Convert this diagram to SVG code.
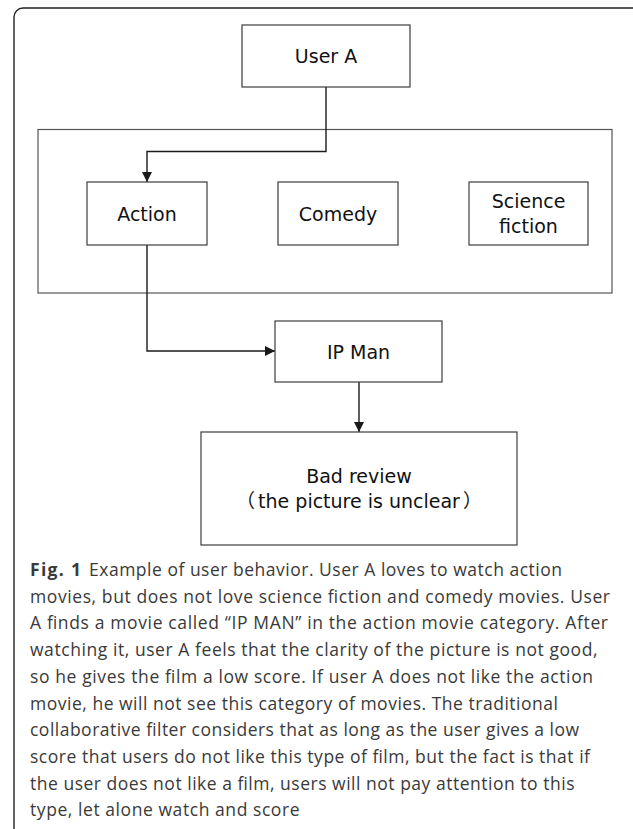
<svg xmlns="http://www.w3.org/2000/svg" width="633" height="829" viewBox="0 0 633 829">
<style>
.box{fill:#fff;stroke:#3c3c3c;stroke-width:1.2}
.grp{fill:none;stroke:#555;stroke-width:1.2}
.lbl{font-family:"DejaVu Sans","Noto Sans CJK SC",sans-serif;font-size:19px;fill:#111;text-anchor:middle}
.cjk{font-family:"Noto Sans CJK SC",sans-serif}
.con{fill:none;stroke:#1a1a1a;stroke-width:1.4}
.cap{font-family:"Open Sans","Liberation Sans",sans-serif;font-size:17.5px;fill:#3a3a3a}
</style>
<defs>
<marker id="ah" viewBox="0 0 10 10" refX="10" refY="5" markerWidth="10" markerHeight="10" markerUnits="userSpaceOnUse" orient="auto">
<path d="M0,0 L10,5 L0,10 Z" fill="#1a1a1a"/>
</marker>
</defs>
<rect x="14" y="8" width="628" height="830" rx="9" ry="9" fill="none" stroke="#222" stroke-width="1.4"/>
<rect class="grp" x="38" y="129.5" width="574" height="163.5"/>
<g id="connectors">
<path class="con" d="M326,87 V151.5 H147 V182" marker-end="url(#ah)"/>
<path class="con" d="M147,245 V351 H275" marker-end="url(#ah)"/>
<path class="con" d="M359,382 V432" marker-end="url(#ah)"/>
</g>
<g id="userA">
<rect class="box" x="242" y="25" width="168" height="62"/>
<text class="lbl" x="326" y="63">User A</text>
</g>
<g id="action">
<rect class="box" x="87" y="182" width="120" height="63"/>
<text class="lbl" x="147" y="220.5">Action</text>
</g>
<g id="comedy">
<rect class="box" x="278" y="182" width="120" height="63"/>
<text class="lbl" x="338" y="220.5">Comedy</text>
</g>
<g id="scifi">
<rect class="box" x="469" y="182" width="119" height="63"/>
<text class="lbl" x="528.5" y="208">Science</text>
<text class="lbl" x="528.5" y="233">fiction</text>
</g>
<g id="ipman">
<rect class="box" x="275" y="321" width="167" height="61"/>
<text class="lbl" x="358.5" y="358.5">IP Man</text>
</g>
<g id="badreview">
<rect class="box" x="201" y="432" width="316" height="113"/>
<text class="lbl" x="359" y="483">Bad review</text>
<text class="lbl" x="359" y="508"><tspan class="cjk">（</tspan><tspan dx="3">the picture is unclear</tspan><tspan class="cjk" dx="3">）</tspan></text>
</g>
<g id="caption">
<text class="cap" x="30" y="576" font-weight="bold" fill="#222" textLength="51">Fig. 1</text>
<text class="cap" x="89" y="576" textLength="473">Example of user behavior. User A loves to watch action</text>
<text class="cap" x="30" y="602.7" textLength="580">movies, but does not love science fiction and comedy movies. User</text>
<text class="cap" x="30" y="629.4" textLength="578">A finds a movie called “IP MAN” in the action movie category. After</text>
<text class="cap" x="30" y="656.1" textLength="567.5">watching it, user A feels that the clarity of the picture is not good,</text>
<text class="cap" x="30" y="682.8" textLength="563">so he gives the film a low score. If user A does not like the action</text>
<text class="cap" x="30" y="709.5" textLength="528">movie, he will not see this category of movies. The traditional</text>
<text class="cap" x="30" y="736.2" textLength="549">collaborative filter considers that as long as the user gives a low</text>
<text class="cap" x="30" y="762.9" textLength="560">score that users do not like this type of film, but the fact is that if</text>
<text class="cap" x="30" y="789.6" textLength="544.5">the user does not like a film, users will not pay attention to this</text>
<text class="cap" x="30" y="816.3" textLength="269.5">type, let alone watch and score</text>
</g>
</svg>
